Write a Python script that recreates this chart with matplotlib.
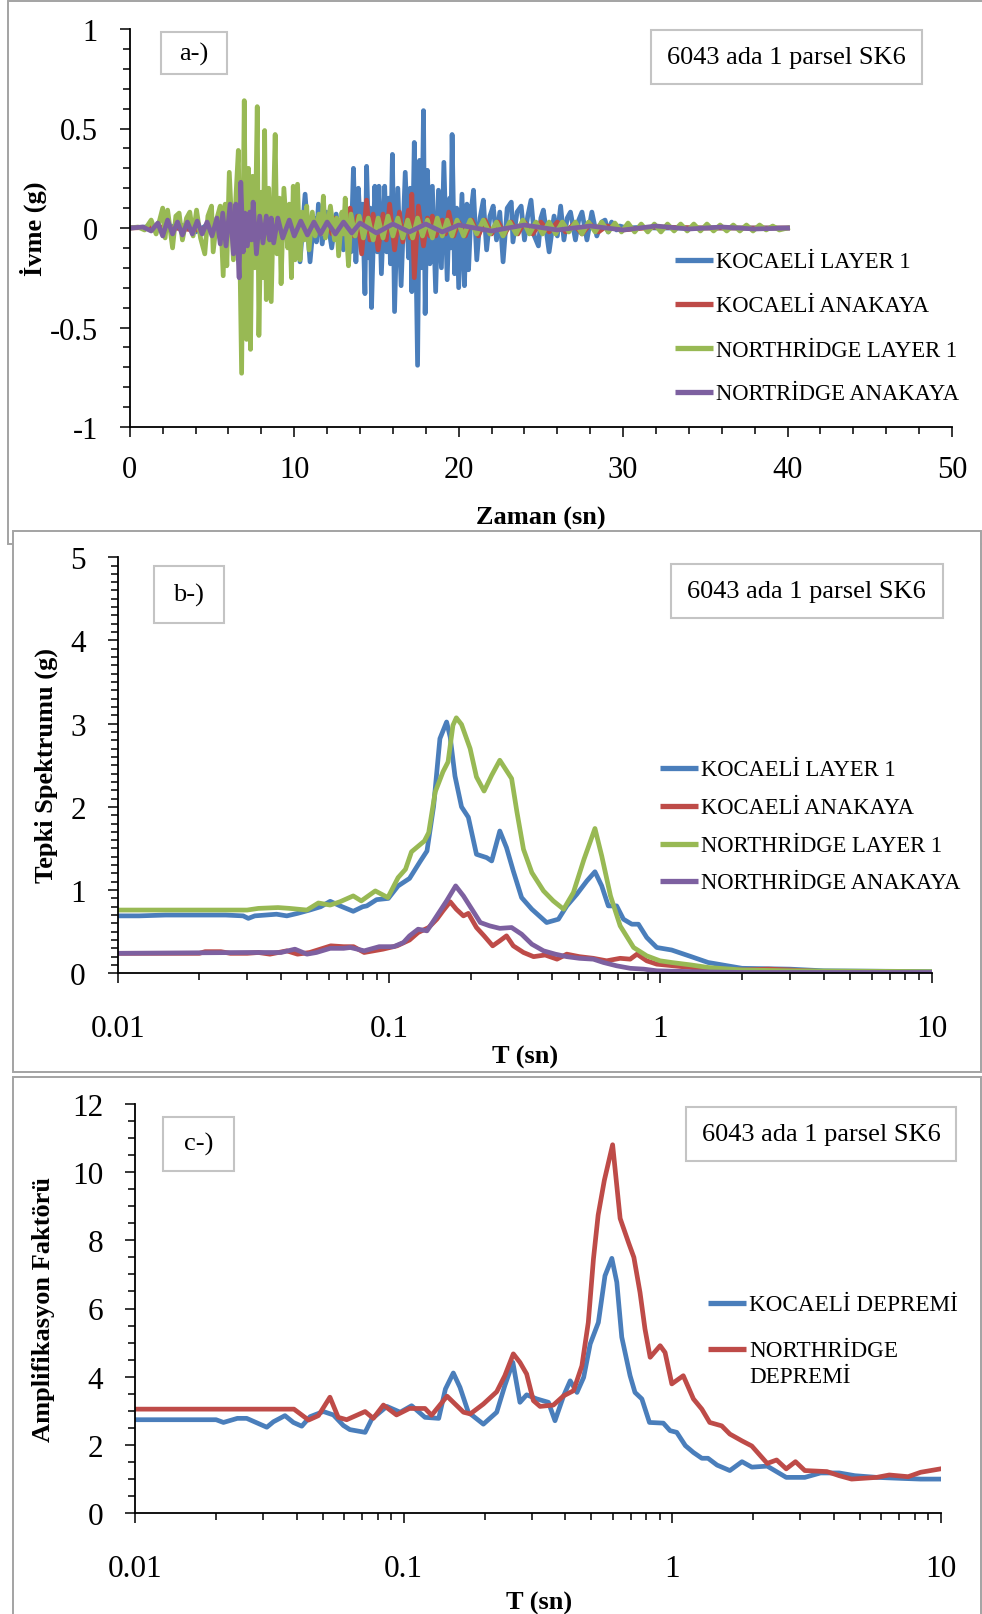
import matplotlib
matplotlib.use("Agg")
import matplotlib.pyplot as plt
from matplotlib.patches import Rectangle
from matplotlib.lines import Line2D
from matplotlib.ticker import MultipleLocator, FixedLocator, FuncFormatter, NullFormatter

plt.rcParams['font.family'] = ['Liberation Serif', 'DejaVu Serif']
plt.rcParams['axes.unicode_minus'] = False

# ---------------------------------------------------------------- data
BLUE, RED, GREEN, PURPLE = "#4A7EBB", "#BE4B48", "#98B954", "#7D60A0"

# (a) acceleration time histories: time (s), acceleration (g)
koc_l1_t = [0, 1, 2, 3, 4, 5, 6, 7, 8, 8.6, 9.2, 9.6, 9.9, 10.1, 10.35, 10.66, 10.96, 11.2, 11.35,
            11.47, 11.7, 11.95, 12.28, 12.55, 12.75, 12.85, 12.99, 13.2, 13.45, 13.6, 13.75, 13.9,
            14.05, 14.15, 14.3, 14.4, 14.55, 14.62, 14.7, 14.9, 15.05, 15.15, 15.3, 15.5, 15.62,
            15.75, 15.85, 15.97, 16.1, 16.3, 16.5, 16.75, 16.95, 17.05, 17.15, 17.3, 17.5, 17.62,
            17.74, 17.86, 17.96, 18.1, 18.25, 18.4, 18.6, 18.77, 18.95, 19.1, 19.3, 19.45, 19.52,
            19.6, 19.75, 19.88, 20.0, 20.2, 20.35, 20.5, 20.6, 20.75, 20.9, 21.1, 21.3, 21.5, 21.7,
            21.9, 22.1, 22.3, 22.5, 22.7, 22.95, 23.2, 23.3, 23.55, 23.8, 24.0, 24.2, 24.4, 24.6,
            24.85, 25.0, 25.15, 25.5, 25.8, 26.0, 26.2, 26.4, 26.6, 26.8, 27.1, 27.3, 27.5, 27.8,
            28.1, 28.4, 28.7, 28.9, 29.1, 29.3, 29.6, 29.8, 30.2, 31, 32, 34, 36, 38, 40]
koc_l1_a = [0, 0.005, -0.01, 0.02, -0.02, 0.03, -0.03, 0.04, -0.05, 0.06, -0.08, 0.10, -0.12, 0.17,
            -0.17, 0.17, -0.17, 0.05, -0.07, 0.12, -0.08, 0.08, -0.10, 0.07, -0.05, 0.04, -0.11,
            0.09, -0.12, 0.30, -0.17, 0.20, -0.05, 0.12, -0.33, 0.31, -0.15, 0.10, -0.40, 0.21,
            -0.12, 0.21, -0.23, 0.21, -0.12, 0.15, -0.18, 0.37, -0.42, 0.20, -0.29, 0.28, -0.15,
            0.20, -0.32, 0.43, -0.69, 0.34, -0.20, 0.59, -0.43, 0.29, -0.18, 0.21, -0.32, 0.19,
            -0.20, 0.33, -0.26, 0.15, -0.10, 0.47, -0.23, 0.10, -0.30, 0.17, -0.29, 0.12, -0.21,
            0.08, 0.19, -0.16, 0.05, 0.14, -0.11, 0.06, 0.11, -0.06, 0.08, -0.17, 0.10, 0.13,
            -0.07, 0.08, 0.11, -0.06, 0.06, 0.14, -0.04, -0.09, 0.05, 0.09, -0.12, 0.06, -0.04,
            0.11, -0.06, 0.05, 0.08, -0.06, 0.04, 0.08, -0.06, 0.08, -0.04, 0.03, 0.04, -0.02,
            0.03, -0.01, 0.01, 0.0, 0.003, 0, 0, 0, 0, 0]

koc_rock_t = [0, 2, 4, 6, 8, 10, 11, 12, 12.3, 12.5, 12.8, 13.1, 13.25, 13.4, 13.6, 13.85, 14.1,
              14.4, 14.6, 14.8, 15.1, 15.4, 15.6, 15.8, 16.1, 16.4, 16.6, 16.95, 17.05, 17.15, 17.3,
              17.55, 17.86, 18.1, 18.25, 18.4, 18.6, 19.0, 19.2, 19.4, 19.7, 20.0, 20.4, 20.8,
              21.2, 21.6, 22.0, 22.4, 22.8, 23.2, 23.6, 24.0, 24.5, 25.0, 25.5, 26.0, 26.5, 27.0,
              27.5, 28.0, 28.5, 29.0, 30, 32, 35, 40]
koc_rock_a = [0, 0.005, -0.01, 0.01, -0.015, 0.02, -0.03, 0.03, -0.03, 0.05, -0.04, 0.05, -0.03,
              0.10, -0.04, 0.06, -0.13, 0.14, -0.06, 0.07, -0.11, 0.07, -0.06, 0.12, -0.11, 0.08,
              -0.07, 0.09, -0.05, 0.17, -0.25, 0.11, -0.09, 0.05, -0.04, 0.06, -0.04, 0.04, -0.03,
              0.08, -0.04, 0.03, -0.04, 0.04, -0.04, 0.04, -0.03, 0.03, -0.03, 0.03, -0.03, 0.03,
              -0.03, 0.03, -0.02, 0.03, -0.02, 0.02, -0.03, 0.02, -0.02, 0.01, -0.01, 0.005, 0, 0]

nor_l1_t = [0, 0.5, 0.9, 1.3, 1.6, 2.0, 2.15, 2.3, 2.6, 2.8, 3.0, 3.2, 3.45, 3.65, 3.85, 4.06, 4.3,
            4.56, 4.75, 4.97, 5.07, 5.3, 5.5, 5.68, 5.8, 5.9, 6.05, 6.3, 6.45, 6.6, 6.8, 6.96, 7.1,
            7.22, 7.34, 7.46, 7.6, 7.75, 7.85, 8.0, 8.1, 8.2, 8.3, 8.45, 8.6, 8.84, 8.95, 9.1, 9.2,
            9.37, 9.6, 9.7, 9.83, 9.94, 10.05, 10.2, 10.35, 10.5, 10.62, 10.76, 10.9, 11.1, 11.27,
            11.5, 11.65, 11.77, 11.9, 12.2, 12.45, 12.58, 12.7, 12.9, 13.0, 13.1, 13.2, 13.3,
            13.45, 13.7, 13.95, 14.2, 14.5, 14.8, 15.1, 15.4, 15.7, 16.0, 16.3, 16.6, 16.9, 17.2,
            17.5, 17.8, 18.1, 18.4, 18.7, 19.0, 19.3, 19.6, 19.9, 20.3, 20.7, 21.1, 21.5, 21.9,
            22.3, 22.7, 23.1, 23.5, 23.9, 24.3, 24.7, 25.1, 25.5, 25.9, 26.3, 26.7, 27.1, 27.5,
            27.9, 28.3, 28.7, 29.1, 29.5, 29.9, 30.3, 30.7, 31.1, 31.5, 31.9, 32.3, 32.7, 33.1,
            33.5, 33.9, 34.3, 34.7, 35.1, 35.5, 35.9, 36.3, 36.7, 37.1, 37.5, 37.9, 38.3, 38.7,
            39.1, 39.5, 40.0]
nor_l1_a = [0, 0.005, -0.01, 0.04, -0.03, 0.10, -0.05, 0.09, -0.10, 0.06, 0.075, -0.06, 0.05, 0.08,
            -0.04, 0.09, -0.05, -0.13, 0.06, 0.11, -0.12, 0.05, 0.11, -0.24, 0.12, -0.19, 0.28,
            -0.16, 0.15, 0.39, -0.73, 0.64, -0.56, 0.30, -0.61, 0.26, -0.20, 0.61, -0.54, 0.18,
            -0.25, 0.49, -0.36, 0.20, -0.37, 0.47, -0.13, 0.15, -0.28, 0.20, -0.10, 0.12, -0.25,
            0.21, -0.16, 0.22, -0.16, 0.08, -0.06, 0.11, -0.11, 0.08, -0.04, 0.07, -0.03, 0.16,
            -0.05, 0.11, -0.06, 0.05, -0.14, 0.08, -0.03, 0.15, -0.06, -0.19, 0.07, -0.04, 0.06,
            -0.05, 0.05, -0.06, 0.05, -0.05, 0.06, -0.04, 0.05, -0.05, 0.04, -0.05, 0.05, -0.04,
            0.04, -0.05, 0.05, -0.04, 0.04, -0.04, 0.04, -0.04, 0.04, -0.03, 0.04, -0.03, 0.03,
            -0.04, 0.03, -0.03, 0.04, -0.03, 0.03, -0.03, 0.03, -0.03, 0.03, -0.02, 0.03, -0.03,
            0.03, -0.02, 0.03, -0.02, 0.025, -0.02, 0.025, -0.02, 0.02, -0.02, 0.02, -0.02, 0.02,
            -0.015, 0.02, -0.015, 0.02, -0.015, 0.02, -0.015, 0.015, -0.015, 0.015, -0.015, 0.015,
            -0.015, 0.015, -0.01, 0.01, -0.01, 0.0]

nor_rock_t = [0, 0.8, 1.3, 1.7, 2.0, 2.3, 2.6, 2.9, 3.2, 3.5, 3.8, 4.1, 4.4, 4.7, 5.0, 5.3, 5.5,
              5.65, 5.85, 6.1, 6.3, 6.45, 6.65, 6.75, 6.9, 7.0, 7.15, 7.3, 7.4, 7.5, 7.7, 7.9, 8.1,
              8.3, 8.5, 8.6, 8.75, 9.0, 9.3, 9.7, 10.0, 10.4, 10.8, 11.2, 11.6, 12, 12.5, 13, 13.5,
              14, 15, 16, 17, 18, 19, 20, 22, 24, 26, 28, 30, 32, 34, 36, 38, 40]
nor_rock_a = [0, 0.005, -0.015, 0.025, -0.04, 0.04, -0.03, 0.03, -0.035, 0.03, -0.03, 0.035, -0.03,
              0.03, -0.04, 0.05, -0.08, 0.075, -0.09, 0.12, -0.13, 0.12, -0.25, 0.23, -0.12, 0.075,
              -0.09, 0.08, -0.06, 0.13, -0.13, 0.06, -0.075, 0.06, -0.06, 0.05, -0.075, 0.05, -0.05,
              0.04, -0.04, 0.035, -0.035, 0.03, -0.03, 0.03, -0.03, 0.03, -0.025, 0.025, -0.025,
              0.02, -0.02, 0.02, -0.02, 0.015, -0.015, 0.015, -0.01, 0.01, -0.01, 0.01, -0.005,
              0.005, -0.005, 0]

# (b) response spectra: period (s), spectral acceleration (g)
sa_koc_l1_T = [0.01, 0.012, 0.015, 0.02, 0.025, 0.029, 0.0303, 0.032, 0.0385, 0.042, 0.046, 0.051,
               0.056, 0.0607, 0.066, 0.0738, 0.080, 0.0828, 0.090, 0.0994, 0.108, 0.119, 0.130,
               0.138, 0.146, 0.154, 0.163, 0.168, 0.175, 0.185, 0.196, 0.210, 0.229, 0.239, 0.256,
               0.271, 0.287, 0.308, 0.336, 0.381, 0.421, 0.452, 0.492, 0.536, 0.574, 0.608, 0.643,
               0.690, 0.731, 0.785, 0.830, 0.891, 0.970, 1.1, 1.3, 1.5, 2.0, 3.0, 4.0, 10]
sa_koc_l1 = [0.69, 0.69, 0.70, 0.70, 0.70, 0.69, 0.66, 0.69, 0.71, 0.69, 0.72, 0.76, 0.80, 0.865,
             0.81, 0.745, 0.80, 0.81, 0.885, 0.90, 1.05, 1.14, 1.34, 1.47, 2.01, 2.82, 3.02, 2.84,
             2.37, 2.00, 1.875, 1.43, 1.39, 1.35, 1.71, 1.51, 1.23, 0.91, 0.77, 0.61, 0.65, 0.81,
             0.95, 1.11, 1.22, 1.05, 0.81, 0.81, 0.65, 0.59, 0.59, 0.43, 0.31, 0.28, 0.20, 0.13,
             0.06, 0.05, 0.03, 0.02]

sa_koc_rock_T = [0.01, 0.02, 0.021, 0.024, 0.026, 0.03, 0.033, 0.0364, 0.042, 0.046, 0.051, 0.061,
                 0.068, 0.074, 0.081, 0.095, 0.107, 0.119, 0.128, 0.140, 0.150, 0.158, 0.168,
                 0.177, 0.188, 0.196, 0.210, 0.224, 0.241, 0.256, 0.271, 0.287, 0.313, 0.341,
                 0.376, 0.416, 0.452, 0.503, 0.566, 0.634, 0.711, 0.774, 0.82, 0.891, 0.97, 1.2,
                 1.5, 2.0, 2.5, 3.0, 4.0, 10]
sa_koc_rock = [0.24, 0.24, 0.26, 0.26, 0.24, 0.24, 0.25, 0.23, 0.27, 0.23, 0.25, 0.33, 0.32, 0.32,
               0.25, 0.29, 0.33, 0.40, 0.49, 0.55, 0.65, 0.75, 0.86, 0.77, 0.69, 0.72, 0.55, 0.45,
               0.33, 0.39, 0.45, 0.33, 0.25, 0.20, 0.22, 0.17, 0.23, 0.20, 0.18, 0.15, 0.18, 0.17,
               0.23, 0.15, 0.11, 0.08, 0.05, 0.04, 0.05, 0.04, 0.02, 0.01]

sa_nor_l1_T = [0.01, 0.03, 0.033, 0.039, 0.043, 0.0498, 0.0549, 0.0607, 0.066, 0.0738, 0.079,
               0.089, 0.099, 0.108, 0.115, 0.121, 0.135, 0.140, 0.148, 0.158, 0.165, 0.172, 0.177,
               0.185, 0.199, 0.210, 0.224, 0.239, 0.256, 0.283, 0.296, 0.313, 0.336, 0.371, 0.403,
               0.440, 0.478, 0.523, 0.574, 0.608, 0.655, 0.711, 0.797, 0.891, 0.997, 1.1, 1.3,
               1.5, 2.0, 3.0, 10]
sa_nor_l1 = [0.76, 0.76, 0.78, 0.79, 0.78, 0.76, 0.845, 0.82, 0.86, 0.93, 0.87, 0.99, 0.91, 1.15,
             1.25, 1.46, 1.59, 1.69, 2.18, 2.42, 2.54, 2.98, 3.07, 2.99, 2.70, 2.36, 2.19, 2.38,
             2.56, 2.34, 1.94, 1.49, 1.21, 0.99, 0.87, 0.77, 0.97, 1.37, 1.74, 1.41, 0.93, 0.57,
             0.31, 0.21, 0.15, 0.13, 0.10, 0.07, 0.04, 0.03, 0.02]

sa_nor_rock_T = [0.01, 0.03, 0.04, 0.045, 0.0498, 0.054, 0.0607, 0.068, 0.072, 0.081, 0.092,
                 0.104, 0.113, 0.119, 0.128, 0.138, 0.150, 0.163, 0.176, 0.188, 0.202, 0.217,
                 0.235, 0.256, 0.283, 0.308, 0.336, 0.371, 0.410, 0.452, 0.503, 0.566, 0.617,
                 0.690, 0.774, 0.868, 0.97, 1.3, 2.0, 10]
sa_nor_rock = [0.24, 0.25, 0.25, 0.29, 0.23, 0.25, 0.30, 0.30, 0.31, 0.27, 0.32, 0.32, 0.37, 0.45,
               0.53, 0.51, 0.69, 0.87, 1.05, 0.93, 0.77, 0.61, 0.57, 0.54, 0.55, 0.47, 0.35, 0.27,
               0.23, 0.20, 0.18, 0.17, 0.13, 0.09, 0.06, 0.05, 0.03, 0.02, 0.01, 0.01]

# (c) amplification factors
af_koc_T = [0.01, 0.02, 0.0213, 0.024, 0.026, 0.0309, 0.0327, 0.0361, 0.0388, 0.0417, 0.0448,
            0.0502, 0.0547, 0.0596, 0.063, 0.0718, 0.076, 0.0865, 0.097, 0.107, 0.120, 0.135,
            0.143, 0.153, 0.162, 0.174, 0.198, 0.222, 0.238, 0.255, 0.271, 0.287, 0.313, 0.346,
            0.366, 0.394, 0.417, 0.442, 0.468, 0.495, 0.531, 0.562, 0.596, 0.622, 0.649, 0.697,
            0.727, 0.771, 0.823, 0.927, 0.982, 1.04, 1.12, 1.20, 1.29, 1.36, 1.47, 1.64, 1.82,
            1.98, 2.26, 2.66, 3.12, 3.57, 4.19, 4.79, 5.78, 7.17, 8.43, 10]
af_koc = [2.74, 2.74, 2.66, 2.78, 2.78, 2.52, 2.68, 2.86, 2.66, 2.55, 2.83, 2.98, 2.88, 2.57, 2.45,
          2.37, 2.76, 3.13, 2.96, 3.15, 2.81, 2.78, 3.64, 4.11, 3.69, 2.96, 2.61, 2.96, 3.74, 4.42,
          3.25, 3.47, 3.35, 3.25, 2.71, 3.44, 3.88, 3.54, 3.98, 4.96, 5.59, 6.96, 7.47, 6.77, 5.16,
          4.03, 3.54, 3.35, 2.66, 2.64, 2.42, 2.37, 1.98, 1.78, 1.61, 1.61, 1.41, 1.25, 1.51, 1.35,
          1.38, 1.05, 1.05, 1.18, 1.18, 1.10, 1.05, 1.02, 1.0, 1.0]

af_nor_T = [0.01, 0.039, 0.0442, 0.0481, 0.0531, 0.057, 0.0613, 0.0718, 0.077, 0.084, 0.094, 0.105,
            0.120, 0.127, 0.145, 0.167, 0.177, 0.198, 0.222, 0.238, 0.256, 0.271, 0.287, 0.304,
            0.322, 0.361, 0.394, 0.429, 0.461, 0.487, 0.509, 0.530, 0.559, 0.600, 0.640, 0.690,
            0.720, 0.759, 0.792, 0.828, 0.902, 0.941, 0.997, 1.10, 1.20, 1.29, 1.38, 1.53, 1.64,
            1.82, 1.98, 2.26, 2.45, 2.66, 2.88, 3.12, 3.77, 4.19, 4.66, 5.78, 6.44, 7.57, 8.43, 10]
af_nor = [3.05, 3.05, 2.73, 2.86, 3.40, 2.81, 2.74, 2.98, 2.78, 3.17, 2.88, 3.07, 3.07, 2.87, 3.43,
          2.96, 2.91, 3.20, 3.56, 4.03, 4.67, 4.42, 4.08, 3.30, 3.13, 3.17, 3.44, 3.59, 4.32, 5.59,
          7.45, 8.74, 9.76, 10.80, 8.64, 7.9, 7.5, 6.47, 5.40, 4.57, 4.91, 4.71, 3.79, 4.03, 3.35,
          3.05, 2.66, 2.56, 2.32, 2.12, 1.97, 1.46, 1.56, 1.30, 1.51, 1.25, 1.22, 1.10, 1.0, 1.05,
          1.12, 1.07, 1.2, 1.30]

PANEL_TITLE = "6043 ada 1 parsel SK6"
log_ticks = [0.01, 0.1, 1, 10]
log_tick_labels = ["0.01", "0.1", "1", "10"]

# ---------------------------------------------------------------- figure
W, H = 982, 1615
fig = plt.figure(figsize=(W / 100, H / 100), dpi=100)
FRAME = "#a3a3a3"
BOXEDGE = "#c4c4c4"
LW = 3.4


def fx(x):
    return x / W


def fy(y):
    return 1 - y / H


def axes_px(left, top, right, bottom):
    return fig.add_axes([fx(left), fy(bottom), (right - left) / W, (bottom - top) / H])


def frame(left, top, right, bottom, z):
    fig.add_artist(Rectangle((fx(left), fy(bottom)), (right - left) / W, (bottom - top) / H,
                             transform=fig.transFigure, facecolor="white",
                             edgecolor=FRAME, lw=1.4, zorder=z))


def box_text(left, top, right, bottom, text, size):
    fig.add_artist(Rectangle((fx(left), fy(bottom)), (right - left) / W, (bottom - top) / H,
                             transform=fig.transFigure, facecolor="white",
                             edgecolor=BOXEDGE, lw=1.5, zorder=2))
    fig.text(fx((left + right) / 2), fy((top + bottom) / 2), text, fontsize=size,
             ha="center", va="center", zorder=3)


def legend_rows(rows, x0, x1, xt, size, line_step=25.8):
    cap = size * 100 / 72 * 0.66
    for color, label, y in rows:
        fig.add_artist(Line2D([fx(x0), fx(x1)], [fy(y), fy(y)], transform=fig.transFigure,
                              color=color, lw=3.8, solid_capstyle="butt", zorder=3))
        for i, part in enumerate(label.split("\n")):
            fig.text(fx(xt), fy(y + cap / 2 + i * line_step), part, fontsize=size,
                     ha="left", va="baseline", zorder=3)


def style_axes(ax, ylab_pad, xlab_pad, size):
    for s in ("top", "right"):
        ax.spines[s].set_visible(False)
    for s in ("left", "bottom"):
        ax.spines[s].set_linewidth(1.3)
        ax.spines[s].set_color("black")
    ax.tick_params(axis="both", which="both", direction="out", width=1.1, labelsize=size)
    ax.tick_params(axis="both", which="major", length=7)
    ax.tick_params(axis="both", which="minor", length=5)
    ax.tick_params(axis="y", which="major", pad=ylab_pad)
    ax.tick_params(axis="x", which="major", pad=xlab_pad)
    ax.patch.set_alpha(0)


def log_label(v, pos):
    key = round(v, 2)
    return log_tick_labels[log_ticks.index(key)] if key in log_ticks else ""


# panel frames
frame(7.5, 1.5, 1000, 545, -3)
fig.text(fx(541), fy(518), "Zaman (sn)", fontsize=19, fontweight="bold",
         ha="center", va="center", zorder=-2.5)
frame(12.5, 532, 981, 1073, -2)
frame(12.5, 1077.6, 981, 1640, -2)

gfmt = FuncFormatter(lambda v, p: "%g" % v)

# ---------------------------------------------------------------- (a)
ax = axes_px(129.8, 30, 952, 428)
ax.plot(koc_l1_t, koc_l1_a, color=BLUE, lw=LW)
ax.plot(koc_rock_t, koc_rock_a, color=RED, lw=LW)
ax.plot(nor_l1_t, nor_l1_a, color=GREEN, lw=LW)
ax.plot(nor_rock_t, nor_rock_a, color=PURPLE, lw=LW)
ax.set_xlim(0, 50)
ax.set_ylim(-1, 1)
ax.xaxis.set_major_locator(MultipleLocator(10))
ax.xaxis.set_minor_locator(MultipleLocator(2))
ax.yaxis.set_major_locator(MultipleLocator(0.5))
ax.yaxis.set_minor_locator(MultipleLocator(0.1))
ax.xaxis.set_major_formatter(gfmt)
ax.yaxis.set_major_formatter(gfmt)
style_axes(ax, 16, 13, 22)
fig.text(fx(33), fy(229), "İvme (g)", fontsize=19, fontweight="bold", rotation=90,
         ha="center", va="center")
box_text(160.7, 33, 226.7, 75.2, "a-)", 19)
box_text(651, 31, 922, 84.5, PANEL_TITLE, 19)
legend_rows([(BLUE, "KOCAELİ LAYER 1", 260.7), (RED, "KOCAELİ ANAKAYA", 305.0),
             (GREEN, "NORTHRİDGE LAYER 1", 349.3), (PURPLE, "NORTRİDGE ANAKAYA", 392.6)],
            675, 713, 716, 16.3)

# ---------------------------------------------------------------- (b)
ax = axes_px(117.7, 558.2, 931.7, 974.3)
ax.plot(sa_koc_l1_T, sa_koc_l1, color=BLUE, lw=LW)
ax.plot(sa_koc_rock_T, sa_koc_rock, color=RED, lw=LW)
ax.plot(sa_nor_l1_T, sa_nor_l1, color=GREEN, lw=LW)
ax.plot(sa_nor_rock_T, sa_nor_rock, color=PURPLE, lw=LW)
ax.set_xscale("log")
ax.set_xlim(0.01, 10)
ax.set_ylim(0, 5)
ax.xaxis.set_major_locator(FixedLocator(log_ticks))
ax.xaxis.set_major_formatter(FuncFormatter(log_label))
ax.xaxis.set_minor_formatter(NullFormatter())
ax.yaxis.set_major_locator(MultipleLocator(1))
ax.yaxis.set_minor_locator(MultipleLocator(0.1))
ax.yaxis.set_major_formatter(gfmt)
style_axes(ax, 16, 22.5, 22.5)
fig.text(fx(46.4), fy(766), "Tepki Spektrumu (g)", fontsize=19, fontweight="bold",
         rotation=90, ha="center", va="center")
fig.text(fx(525), fy(1057), "T (sn)", fontsize=19, fontweight="bold", ha="center", va="center")
box_text(153.5, 566.7, 223.6, 624.4, "b-)", 19)
box_text(670.8, 564.7, 942.8, 619.3, PANEL_TITLE, 19)
legend_rows([(BLUE, "KOCAELİ LAYER 1", 768.7), (RED, "KOCAELİ ANAKAYA", 806.8),
             (GREEN, "NORTHRİDGE LAYER 1", 845.0), (PURPLE, "NORTHRİDGE ANAKAYA", 882.0)],
            659.5, 697.6, 700.7, 16.3)

# ---------------------------------------------------------------- (c)
ax = axes_px(135.3, 1104.8, 940.6, 1514.2)
ax.plot(af_koc_T, af_koc, color=BLUE, lw=LW)
ax.plot(af_nor_T, af_nor, color=RED, lw=LW)
ax.set_xscale("log")
ax.set_xlim(0.01, 10)
ax.set_ylim(0, 12)
ax.xaxis.set_major_locator(FixedLocator(log_ticks))
ax.xaxis.set_major_formatter(FuncFormatter(log_label))
ax.xaxis.set_minor_formatter(NullFormatter())
ax.yaxis.set_major_locator(MultipleLocator(2))
ax.yaxis.set_minor_locator(MultipleLocator(0.5))
ax.yaxis.set_major_formatter(gfmt)
style_axes(ax, 16, 22.5, 22.5)
fig.text(fx(43.3), fy(1310), "Amplifikasyon Faktörü", fontsize=19, fontweight="bold",
         rotation=90, ha="center", va="center")
fig.text(fx(539), fy(1603), "T (sn)", fontsize=19, fontweight="bold", ha="center", va="center")
box_text(162.8, 1118, 233.9, 1171.5, "c-)", 19)
box_text(686, 1107.7, 956, 1162.3, PANEL_TITLE, 19)
legend_rows([(BLUE, "KOCAELİ DEPREMİ", 1303.5), (RED, "NORTHRİDGE\nDEPREMİ", 1349.8)],
            708, 746, 749, 16.7)

fig.savefig("out.png", dpi=100)
